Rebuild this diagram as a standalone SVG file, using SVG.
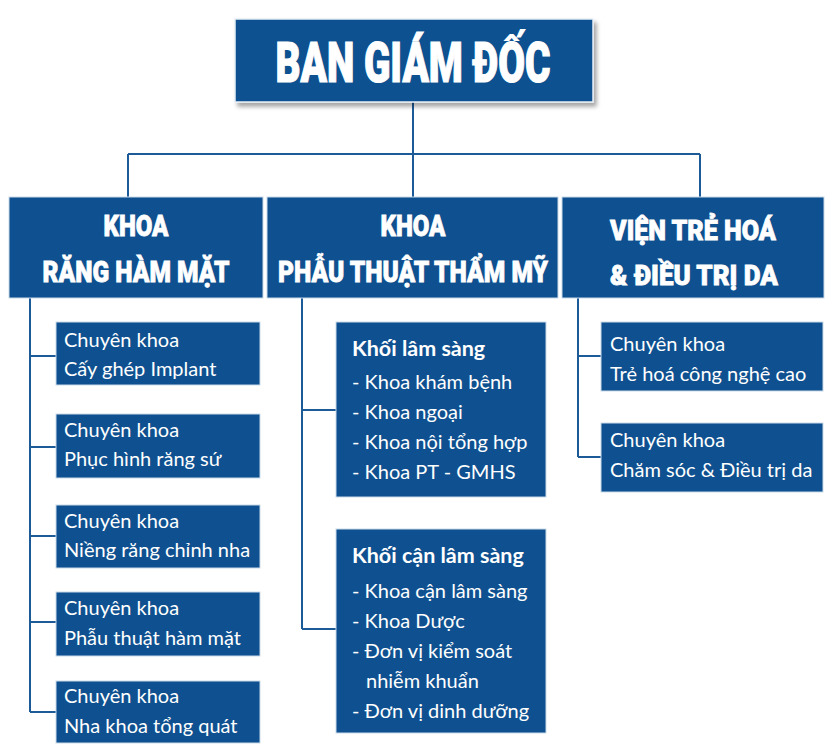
<svg xmlns="http://www.w3.org/2000/svg" width="833" height="753" viewBox="0 0 833 753">
<defs>
<filter id="sh" x="-10%" y="-10%" width="130%" height="140%">
<feDropShadow dx="3" dy="4" stdDeviation="2" flood-color="#000" flood-opacity="0.35"/>
</filter>
</defs>
<style>
.box{fill:#0f5190;stroke:#c9d9ea;stroke-width:1}
.hd{font-family:Roboto,"DejaVu Sans",sans-serif;font-weight:900;fill:#fff;stroke:#fff;stroke-width:0.8px;text-anchor:middle}
.t{font-family:Lato,"Noto Sans",sans-serif;font-size:20px;fill:#fff}
.b{font-weight:700;font-size:21.5px}
.ln{stroke:#1d5b98;stroke-width:2;fill:none}
</style>
<rect width="833" height="753" fill="#fff"/>
<g id="connectors">
<path class="ln" d="M413,102 V154 M128,154 H700 M128,154 V197 M413,154 V197 M700,154 V197"/>
<path class="ln" d="M30,298 V712 M30,356 H56 M30,447 H56 M30,536 H56 M30,622 H56 M30,712 H56"/>
<path class="ln" d="M302,298 V629 M302,410 H336 M302,629 H336"/>
<path class="ln" d="M578,298 V457 M578,356 H601 M578,457 H601"/>
</g>
<g id="bgd">
<rect x="235" y="19" width="358" height="83" fill="#0f5190" stroke="#e6eef6" stroke-width="1.5" filter="url(#sh)"/>
<text class="hd" x="413" y="82" font-size="55" textLength="275" lengthAdjust="spacingAndGlyphs" style="stroke-width:1.2px">BAN GIÁM ĐỐC</text>
</g>
<g id="khoa-rhm">
<rect class="box" x="9" y="197" width="254" height="101"/>
<text class="hd" x="136" y="236" font-size="29" textLength="65" lengthAdjust="spacingAndGlyphs">KHOA</text>
<text class="hd" x="136" y="282" font-size="29" textLength="187" lengthAdjust="spacingAndGlyphs">RĂNG HÀM MẶT</text>
</g>
<g id="khoa-ptth">
<rect class="box" x="267" y="197" width="291" height="101"/>
<text class="hd" x="413" y="236" font-size="29" textLength="65" lengthAdjust="spacingAndGlyphs">KHOA</text>
<text class="hd" x="413" y="282" font-size="29" textLength="270" lengthAdjust="spacingAndGlyphs">PHẪU THUẬT THẨM MỸ</text>
</g>
<g id="vien-tre-hoa">
<rect class="box" x="562" y="197" width="262" height="101"/>
<text class="hd" x="693" y="240" font-size="28" textLength="166" lengthAdjust="spacingAndGlyphs">VIỆN TRẺ HOÁ</text>
<text class="hd" x="694" y="285" font-size="28" textLength="168" lengthAdjust="spacingAndGlyphs">&amp; ĐIỀU TRỊ DA</text>
</g>
<g id="ck-implant">
<rect class="box" x="56" y="322" width="204" height="63"/>
<text class="t" x="64" y="347">Chuyên khoa</text>
<text class="t" x="64" y="376">Cấy ghép Implant</text>
</g>
<g id="ck-phuc-hinh">
<rect class="box" x="56" y="414" width="204" height="64"/>
<text class="t" x="64" y="437">Chuyên khoa</text>
<text class="t" x="64" y="466">Phục hình răng sứ</text>
</g>
<g id="ck-nieng">
<rect class="box" x="56" y="505" width="204" height="63"/>
<text class="t" x="64" y="528">Chuyên khoa</text>
<text class="t" x="64" y="557">Niềng răng chỉnh nha</text>
</g>
<g id="ck-pt-ham-mat">
<rect class="box" x="56" y="592" width="204" height="64"/>
<text class="t" x="64" y="615">Chuyên khoa</text>
<text class="t" x="64" y="645">Phẫu thuật hàm mặt</text>
</g>
<g id="ck-tong-quat">
<rect class="box" x="56" y="681" width="204" height="62"/>
<text class="t" x="64" y="703">Chuyên khoa</text>
<text class="t" x="64" y="733">Nha khoa tổng quát</text>
</g>
<g id="khoi-lam-sang">
<rect class="box" x="336" y="322" width="210" height="175"/>
<text class="t b" x="352" y="356">Khối lâm sàng</text>
<text class="t" x="352" y="389">- Khoa khám bệnh</text>
<text class="t" x="352" y="419">- Khoa ngoại</text>
<text class="t" x="352" y="449">- Khoa nội tổng hợp</text>
<text class="t" x="352" y="479">- Khoa PT - GMHS</text>
</g>
<g id="khoi-can-lam-sang">
<rect class="box" x="336" y="529" width="210" height="204"/>
<text class="t b" x="352" y="563">Khối cận lâm sàng</text>
<text class="t" x="352" y="598">- Khoa cận lâm sàng</text>
<text class="t" x="352" y="628">- Khoa Dược</text>
<text class="t" x="352" y="658">- Đơn vị kiểm soát</text>
<text class="t" x="366" y="688">nhiễm khuẩn</text>
<text class="t" x="352" y="718">- Đơn vị dinh dưỡng</text>
</g>
<g id="ck-tre-hoa">
<rect class="box" x="601" y="322" width="222" height="69"/>
<text class="t" x="610" y="351">Chuyên khoa</text>
<text class="t" x="610" y="381">Trẻ hoá công nghệ cao</text>
</g>
<g id="ck-cham-soc">
<rect class="box" x="601" y="423" width="222" height="69"/>
<text class="t" x="610" y="447">Chuyên khoa</text>
<text class="t" x="610" y="477">Chăm sóc &amp; Điều trị da</text>
</g>
</svg>
